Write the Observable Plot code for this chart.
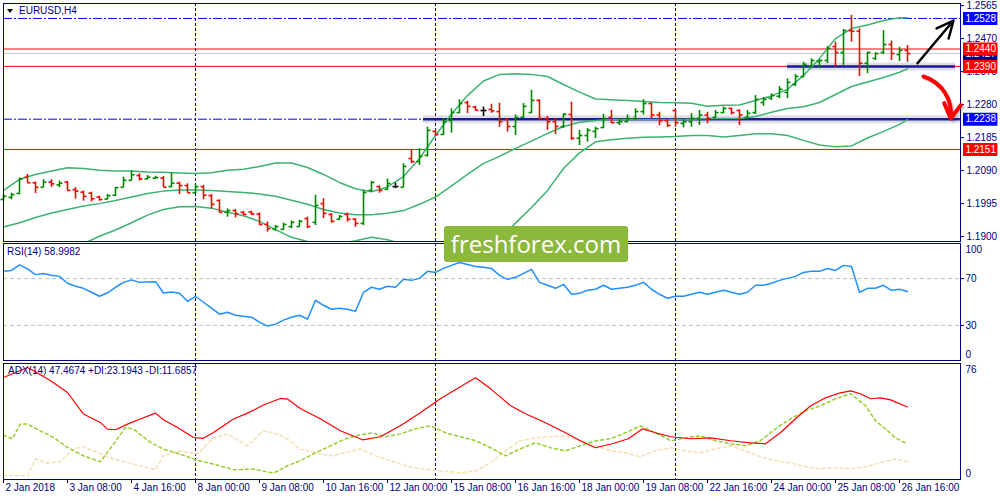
<!DOCTYPE html>
<html><head><meta charset="utf-8">
<script src="https://cdn.jsdelivr.net/npm/d3@7"></script>
<script src="https://cdn.jsdelivr.net/npm/@observablehq/plot@0.6"></script>
<style>
body{margin:0;background:#fff;}
#wrap{position:relative;width:1000px;height:500px;background:#fff;overflow:hidden;font-family:"Liberation Sans",Arial,sans-serif;}
.panel{position:absolute;left:0;}
.lbl{position:absolute;font-size:10px;color:#000080;white-space:nowrap;line-height:12px;}
.tri{display:inline-block;width:0;height:0;border-left:3px solid transparent;border-right:3px solid transparent;border-top:4px solid #000;vertical-align:middle;margin-right:6px;}
#logo{position:absolute;left:444px;top:226px;width:184px;height:36px;background:#8cb83c;border-radius:3px;color:#fff;font:24px "Open Sans",sans-serif;text-align:center;line-height:35px;}
</style></head><body>
<div id="wrap">
 <div id="main" class="panel" style="top:0"></div>
 <div id="rsi" class="panel" style="top:242px"></div>
 <div id="adx" class="panel" style="top:361px"></div>
 <div class="lbl" style="left:7px;top:5px"><span class="tri"></span>EURUSD,H4</div>
 <div class="lbl" style="left:7px;top:246px">RSI(14) 58.9982</div>
 <div class="lbl" style="left:8px;top:365px">ADX(14) 47.4674 +DI:23.1943 -DI:11.6857</div>
 <div id="logo">freshforex.com</div>
</div>
<script>
// ---- time axis ----
const xTickIdx = [0,8,16,24,32,40,48,56,64,72,80,88,96,104,112];
const xTickLabels = ["2 Jan 2018","3 Jan 08:00","4 Jan 16:00","8 Jan 00:00","9 Jan 08:00","10 Jan 16:00","12 Jan 00:00","15 Jan 08:00","16 Jan 16:00","18 Jan 00:00","19 Jan 08:00","22 Jan 16:00","24 Jan 00:00","25 Jan 08:00","26 Jan 16:00"];
const weekSep = [24,54,84];

// ---- OHLC (H4 bars) ----
const open = [1.2007,1.2013,1.2024,1.2071,1.2055,1.2042,1.2057,1.2049,1.2057,1.2035,
1.2028,1.2025,1.2014,1.2008,1.2019,1.2042,1.2062,1.2076,1.2066,1.2068,
1.2069,1.2044,1.2054,1.2047,1.2026,1.2044,1.2018,1.2004,1.1970,1.1975,
1.1970,1.1971,1.1965,1.1935,1.1921,1.1921,1.1929,1.1929,1.1952,1.1941,
1.1995,1.1964,1.1950,1.1964,1.1950,1.1938,1.2033,1.2044,1.2036,1.2044,
1.2042,1.2125,1.2116,1.2134,1.2203,1.2194,1.2234,1.2257,1.2286,1.2273,
1.2263,1.2266,1.2260,1.2237,1.2217,1.2243,1.2257,1.2292,1.2240,1.2231,
1.2217,1.2252,1.2183,1.2191,1.2203,1.2214,1.2243,1.2228,1.2231,1.2240,
1.2260,1.2283,1.2250,1.2234,1.2263,1.2226,1.2231,1.2240,1.2250,1.2243,
1.2257,1.2269,1.2263,1.2243,1.2257,1.2286,1.2298,1.2304,1.2315,1.2338,
1.2361,1.2390,1.2404,1.2407,1.2447,1.2430,1.2493,1.2491,1.2399,1.2413,
1.2430,1.2453,1.2424,1.2436];
const high = [1.2021,1.2025,1.2069,1.2079,1.2057,1.2064,1.2064,1.2060,1.2059,1.2041,
1.2031,1.2028,1.2016,1.2021,1.2042,1.2071,1.2089,1.2081,1.2076,1.2074,
1.2073,1.2083,1.2057,1.2052,1.2050,1.2047,1.2021,1.2006,1.1980,1.1978,
1.1972,1.1973,1.1968,1.1942,1.1932,1.1939,1.1945,1.1947,1.1956,1.2019,
1.2009,1.1966,1.1961,1.1968,1.1952,1.2033,1.2059,1.2046,1.2066,1.2054,
1.2110,1.2148,1.2153,1.2215,1.2208,1.2240,1.2268,1.2294,1.2290,1.2275,
1.2273,1.2281,1.2284,1.2240,1.2250,1.2283,1.2321,1.2294,1.2246,1.2240,
1.2254,1.2287,1.2206,1.2211,1.2215,1.2252,1.2263,1.2240,1.2250,1.2268,
1.2294,1.2284,1.2258,1.2237,1.2265,1.2237,1.2254,1.2263,1.2258,1.2263,
1.2273,1.2270,1.2265,1.2263,1.2306,1.2300,1.2311,1.2332,1.2354,1.2367,
1.2402,1.2412,1.2409,1.2447,1.2460,1.2496,1.2537,1.2498,1.2431,1.2429,
1.2493,1.2463,1.2445,1.2450];
const low = [1.2002,1.2006,1.2021,1.2054,1.2024,1.2041,1.2042,1.2041,1.2031,1.2008,
1.2002,1.2000,1.2002,1.2006,1.2016,1.2041,1.2060,1.2060,1.2064,1.2065,
1.2041,1.2041,1.2021,1.2025,1.2024,1.2006,1.1980,1.1968,1.1956,1.1954,
1.1961,1.1961,1.1932,1.1913,1.1916,1.1918,1.1923,1.1927,1.1923,1.1932,
1.1952,1.1939,1.1947,1.1942,1.1927,1.1932,1.2028,1.2025,1.2033,1.2038,
1.2041,1.2110,1.2105,1.2129,1.2188,1.2191,1.2198,1.2254,1.2254,1.2262,
1.2246,1.2255,1.2215,1.2201,1.2191,1.2240,1.2254,1.2237,1.2206,1.2194,
1.2211,1.2177,1.2162,1.2172,1.2182,1.2211,1.2225,1.2220,1.2229,1.2234,
1.2250,1.2240,1.2220,1.2215,1.2215,1.2213,1.2215,1.2220,1.2225,1.2240,
1.2254,1.2250,1.2220,1.2237,1.2252,1.2275,1.2292,1.2297,1.2297,1.2332,
1.2357,1.2383,1.2383,1.2398,1.2388,1.2393,1.2460,1.2361,1.2369,1.2407,
1.2424,1.2407,1.2404,1.2402];
const close = [1.2016,1.2021,1.2066,1.2055,1.2042,1.2057,1.2052,1.2054,1.2033,1.2031,
1.2016,1.2009,1.2007,1.2018,1.2041,1.2062,1.2078,1.2066,1.2071,1.2070,
1.2042,1.2054,1.2047,1.2026,1.2044,1.2019,1.1993,1.1970,1.1975,1.1966,
1.1964,1.1965,1.1935,1.1923,1.1929,1.1935,1.1941,1.1944,1.1929,1.1990,
1.1967,1.1944,1.1958,1.1950,1.1938,1.2027,1.2056,1.2033,1.2053,1.2044,
1.2102,1.2116,1.2131,1.2206,1.2194,1.2231,1.2257,1.2283,1.2275,1.2264,
1.2263,1.2262,1.2231,1.2217,1.2243,1.2275,1.2292,1.2240,1.2231,1.2217,
1.2252,1.2183,1.2191,1.2206,1.2211,1.2240,1.2228,1.2231,1.2240,1.2260,
1.2283,1.2250,1.2234,1.2220,1.2228,1.2231,1.2240,1.2250,1.2240,1.2257,
1.2269,1.2257,1.2250,1.2255,1.2295,1.2295,1.2306,1.2324,1.2344,1.2361,
1.2396,1.2407,1.2407,1.2442,1.2430,1.2493,1.2491,1.2399,1.2430,1.2427,
1.2453,1.2427,1.2436,1.2427];

// ---- Bollinger bands (read at sample bars) ----
const bbIdx = [0,2,4,6,8,10,12,14,16,18,20,22,24,26,28,30,32,34,36,38,40,42,44,46,48,50,52,54,56,58,60,62,64,66,68,70,72,74,76,78,80,82,84,86,88,90,92,94,96,98,100,102,104,106,108,110,112,113];
const bbUpper = [1.2033,1.2065,1.2079,1.2089,1.2098,1.2096,1.2091,1.2089,1.2089,1.2086,1.2085,1.2083,1.2082,1.2084,1.2091,1.2094,1.2102,1.2112,1.2112,1.2099,1.2079,1.2056,1.2038,1.2029,1.2043,1.2073,1.2125,1.2191,1.2253,1.2306,1.2348,1.2367,1.2369,1.2367,1.2361,1.2338,1.2316,1.2296,1.2294,1.2292,1.2289,1.2286,1.2285,1.2284,1.2275,1.2278,1.2279,1.2292,1.2305,1.2324,1.2364,1.2413,1.2470,1.2499,1.2509,1.2522,1.2530,1.2530];
const bbMiddle = [1.1928,1.1940,1.1955,1.1968,1.1978,1.1988,1.1995,1.2004,1.2014,1.2024,1.2031,1.2034,1.2034,1.2033,1.2030,1.2027,1.2023,1.2016,1.2005,1.1993,1.1978,1.1968,1.1963,1.1963,1.1967,1.1975,1.1993,1.2014,1.2046,1.2079,1.2111,1.2131,1.2154,1.2175,1.2197,1.2217,1.2229,1.2234,1.2237,1.2237,1.2237,1.2237,1.2237,1.2238,1.2240,1.2240,1.2240,1.2246,1.2258,1.2269,1.2274,1.2286,1.2309,1.2332,1.2345,1.2358,1.2373,1.2383];
const bbLower = [1.1823,1.1814,1.1832,1.1847,1.1859,1.1880,1.1901,1.1919,1.1940,1.1962,1.1978,1.1986,1.1987,1.1982,1.1970,1.1960,1.1944,1.1920,1.1898,1.1886,1.1878,1.1880,1.1888,1.1898,1.1891,1.1878,1.1860,1.1836,1.1840,1.1852,1.1873,1.1895,1.1939,1.1984,1.2033,1.2096,1.2141,1.2173,1.2179,1.2183,1.2186,1.2187,1.2188,1.2191,1.2191,1.2187,1.2191,1.2196,1.2196,1.2191,1.2177,1.2164,1.2159,1.2161,1.2184,1.2203,1.2223,1.2237];

// ---- price axis and levels ----
const priceTicks = [1.2565,1.2470,1.2375,1.2280,1.2185,1.2090,1.1995,1.1900];
const blueLevels = [1.2528,1.2238];
const redLevels = [1.2440,1.2390,1.2151];
const bidLevel = [1.2427];
const tagValues = [1.2427,1.2528,1.2440,1.2390,1.2238,1.2151];
const tagColors = ["#000080","#0000ff","#ff0000","#ff0000","#0000ff","#ff0000"];
const segLevels = [1.2238,1.2390];
const segFrom = [52.5,98];
const segTo = [119.6,119];
const upArrow = [{x1:114.25,y1:1.2399,x2:118.75,y2:1.2522}];
const downArrow = [{x1:115,y1:1.2361,x2:118.4,y2:1.2240}];

// ---- RSI(14) ----
const rsi = [76.2,77.0,81.7,78.3,73.4,74.3,72.8,71.9,66.0,63.4,
61.7,58.3,54.9,57.9,62.6,66.8,68.9,66.8,67.2,67.4,
57.7,58.5,57.4,50.6,54.9,49.8,44.7,39.6,41.3,38.7,
37.9,37.0,32.8,29.4,31.1,34.5,37.0,38.7,35.3,51.5,
47.2,43.8,44.7,43.8,42.1,58.3,62.6,60.9,63.4,62.6,
69.4,68.5,70.2,76.2,75.3,78.7,81.3,83.8,82.1,80.4,
79.6,78.7,72.8,69.4,71.1,74.5,77.9,66.8,64.3,61.7,
65.1,56.6,57.4,60.0,60.9,64.3,60.9,61.7,62.6,64.3,
66.8,60.9,56.6,53.2,54.9,54.9,56.6,58.3,56.6,58.3,
60.0,58.3,56.6,58.3,64.3,64.3,66.0,68.5,70.2,71.9,
75.3,76.2,76.2,78.7,77.0,81.3,80.4,58.3,61.7,61.7,
64.3,60.0,60.9,59.0];
const rsiLevels = [70,30];

// ---- ADX(14) ----
const adxIdx = [0,3,3.75,5.9,8,10,12.1,13,14,15.5,17.1,19,20,21.75,23.75,24.9,26.25,28.75,30.5,32.5,34.6,35.5,37.1,39.6,42.1,44.9,47.1,49.6,52.1,54.6,57.1,59,60.9,63.4,65.25,67.75,70.25,72.1,74,76.1,78.1,79.9,81.5,83.4,85.9,88.4,90.9,93.4,95.25,97.1,99,100.9,102.75,104.6,105.9,107.1,108.4,109.6,110.9,113];
const adxVal = [66.8,73.4,71.2,64.7,57.0,42.9,37.4,33.0,32.6,36.3,39.6,43.5,39.1,34.1,27.5,26.9,30.8,39.6,43.5,48.8,53.1,52.7,46.5,39.8,31.9,26.0,28.0,35.2,43.7,52.9,60.7,66.6,59.4,48.3,43.1,37.2,30.6,25.4,20.8,23.4,26.7,33.2,30.6,28.0,26.7,27.3,25.4,24.0,23.4,30.6,39.8,48.3,53.5,56.8,58.1,56.2,52.9,53.5,52.2,47.47];
const pdiIdx = [0,1.1,2.1,3,4.6,6.25,8,10,12.1,13.75,15.25,16.25,18.4,20,22.1,24,26.25,28.75,31.25,33.75,35.5,37.1,39,40.9,42.75,44.6,46.1,47.75,49.6,51.5,53.4,55.25,57.1,59,60.9,62.75,64.6,66.5,68.4,70.25,72.1,74,75.9,77.75,79.6,81.5,83.4,85.25,87.1,89,90.9,92.75,94.6,96.5,98.4,100.25,102.1,104,105.9,107.75,109,110.25,111.5,113];
const pdiVal = [29.1,26.5,36.3,36.3,31.9,27.5,21.0,15.5,11.6,23.2,34.1,33.0,24.2,19.9,16.6,12.9,10.1,6.4,6.8,4.2,9.0,12.3,17.5,22.1,26.7,29.3,30.6,28.0,29.9,33.2,35.2,30.6,28.0,25.4,20.8,15.5,20.1,24.0,20.8,18.8,22.1,25.4,26.7,30.6,35.2,30.6,25.4,27.3,28.6,25.4,23.4,22.1,25.4,33.2,39.8,45.0,48.3,52.9,56.2,48.3,38.5,33.2,27.3,23.19];
const mdiIdx = [0,3,4,5.5,7.1,8.75,9.9,11.25,13.75,16.25,19,20,22.1,24.25,26.25,28,30.5,32.5,34.25,35.5,37.1,39,40.9,42.75,44.6,46.5,48.4,50.25,52.1,54.6,57.1,59,60.9,62.75,64.6,66.5,68.4,70.25,72.1,74,75.9,77.75,79.6,81.5,83.4,85.25,87.1,89,90.9,92.75,94.6,96.5,98.4,100.25,102.1,104,105.9,107.75,109.6,111.5,113];
const mdiVal = [2.9,2.4,13.4,10.7,11.6,19.9,21.6,18.8,13.4,10.1,6.4,15.5,18.8,16.6,27.5,29.8,22.1,31.9,29.8,26.5,19.9,17.5,15.5,17.5,20.1,15.5,12.3,9.0,7.0,5.7,4.4,5.7,10.9,18.8,25.4,27.3,28.0,28.6,25.4,22.1,18.8,17.5,14.9,18.8,20.8,18.8,17.5,20.1,22.1,18.8,14.9,12.3,10.9,8.3,7.0,7.7,7.0,8.3,10.9,13.6,11.69];

// ---------- build ----------
const NAVY = "#000080", GREEN = "#008800", RED = "#ff0000", BB = "#3cb371";
const FONT = '"Liberation Sans",Arial,sans-serif';
const bars = open.map((o,i)=>({i, open:o, high:high[i], low:low[i], close:close[i]}));
const barColor = d => d.close > d.open ? GREEN : d.close < d.open ? RED : "#000000";
const bb = bbIdx.map((x,k)=>({x, up:bbUpper[k], mid:bbMiddle[k], lo:bbLower[k]}));
const tags = tagValues.map((v,k)=>({value:v, color:tagColors[k]}));
const segs = segLevels.map((v,k)=>({level:v, from:segFrom[k], to:segTo[k]}));
const labelMap = new Map(xTickIdx.map((d,k)=>[d, xTickLabels[k]]));
const leftTick = {draw(ctx){ctx.moveTo(-3,0); ctx.lineTo(0,0);}};
const rightTick = {draw(ctx){ctx.moveTo(0,0); ctx.lineTo(3,0);}};

const X = {domain:[0,119.625], axis:null};
const common = {width:1000, marginLeft:3, marginRight:40, color:{type:"identity"},
  style:{fontFamily:FONT, fontSize:"10px", color:NAVY, background:"transparent", overflow:"visible"}};

// each price tag: its box, then its text, so later tags cover earlier ones
const tagMarks = tags.flatMap(t => [
  Plot.ruleY([t], {y:"value", x1:120, x2:124.3, stroke:t.color, strokeWidth:13}),
  Plot.text([t], {y:"value", x:122.15, text:d=>d.value.toFixed(4), fill:"#ffffff", fontSize:10})
]);

const main = Plot.plot({...common, height:242, marginTop:3, marginBottom:1, x:X,
  y:{domain:[1.1886,1.2571], axis:null},
  marks:[
    Plot.ruleX(weekSep, {stroke:NAVY, strokeDasharray:"3,2"}),
    Plot.ruleY(bidLevel, {stroke:"#c8c8c8"}),
    Plot.ruleY(redLevels, {stroke:RED}),
    Plot.ruleY(blueLevels, {stroke:"#0000ff", strokeDasharray:"9,2,2,2"}),
    Plot.ruleY(segs, {y:"level", x1:"from", x2:"to", stroke:"#8080a0", strokeOpacity:0.25, strokeWidth:8}),
    Plot.ruleY(segs, {y:"level", x1:"from", x2:"to", stroke:"#1a1a99", strokeWidth:2.5}),
    Plot.line(bb, {x:"x", y:"up", stroke:BB, clip:true}),
    Plot.line(bb, {x:"x", y:"mid", stroke:BB, clip:true}),
    Plot.line(bb, {x:"x", y:"lo", stroke:BB, clip:true}),
    Plot.ruleX(bars, {x:"i", y1:"low", y2:"high", stroke:barColor, strokeWidth:1.6}),
    Plot.dot(bars, {x:"i", y:"open", symbol:leftTick, stroke:barColor, fill:"none", strokeWidth:1.6}),
    Plot.dot(bars, {x:"i", y:"close", symbol:rightTick, stroke:barColor, fill:"none", strokeWidth:1.6}),
    Plot.frame({stroke:NAVY}),
    Plot.axisY({ticks:priceTicks, anchor:"right", tickFormat:d=>d.toFixed(4), tickSize:3, tickPadding:3}),
    ...tagMarks,
    Plot.arrow(upArrow, {x1:"x1", y1:"y1", x2:"x2", y2:"y2", stroke:"#000", strokeWidth:2.5, headLength:15, headAngle:50}),
    Plot.arrow(downArrow, {x1:"x1", y1:"y1", x2:"x2", y2:"y2", stroke:"#000", strokeOpacity:0.15, strokeWidth:4, dx:2, dy:2, bend:40, headLength:14, headAngle:60}),
    Plot.arrow(downArrow, {x1:"x1", y1:"y1", x2:"x2", y2:"y2", stroke:RED, strokeWidth:4, bend:40, headLength:14, headAngle:60})
  ]});
document.getElementById("main").append(main);

const rsiPlot = Plot.plot({...common, height:119, marginTop:1, marginBottom:1, x:X,
  y:{domain:[0,100], axis:null},
  marks:[
    Plot.ruleY(rsiLevels, {stroke:"#c0c0c0", strokeDasharray:"4,3"}),
    Plot.ruleX(weekSep, {stroke:NAVY, strokeDasharray:"3,2"}),
    Plot.line(rsi, {x:(d,i)=>i, y:d=>d, stroke:"#1e90ff", clip:true}),
    Plot.frame({stroke:NAVY}),
    Plot.axisY({ticks:rsiLevels, anchor:"right", tickSize:3, tickPadding:2}),
    Plot.axisY({ticks:[100], anchor:"right", tickSize:0, tickPadding:5, dy:6}),
    Plot.axisY({ticks:[0], anchor:"right", tickSize:0, tickPadding:5, dy:-6})
  ]});
document.getElementById("rsi").append(rsiPlot);

const adxPlot = Plot.plot({...common, height:139, marginTop:2, marginBottom:21, x:X,
  y:{domain:[0,76], axis:null},
  marks:[
    Plot.ruleX(weekSep, {stroke:NAVY, strokeDasharray:"3,2"}),
    Plot.line(mdiIdx, {x:d=>d, y:(d,k)=>mdiVal[k], stroke:"#f5deb3", strokeDasharray:"3,3", clip:true}),
    Plot.line(pdiIdx, {x:d=>d, y:(d,k)=>pdiVal[k], stroke:"#9acd32", strokeDasharray:"3,3", clip:true}),
    Plot.line(adxIdx, {x:d=>d, y:(d,k)=>adxVal[k], stroke:RED, strokeWidth:1.2, clip:true}),
    Plot.frame({stroke:NAVY}),
    Plot.axisY({ticks:[76], anchor:"right", tickSize:0, tickPadding:5, dy:6}),
    Plot.axisY({ticks:[0], anchor:"right", tickSize:0, tickPadding:5, dy:-6}),
    Plot.axisX({ticks:xTickIdx, anchor:"bottom", tickSize:4, tickFormat:()=>""}),
    Plot.axisX({ticks:xTickIdx, anchor:"bottom", tickSize:0, tickPadding:4, textAnchor:"start", dx:2, tickFormat:d=>labelMap.get(d)})
  ]});
document.getElementById("adx").append(adxPlot);
</script>
</body></html>
